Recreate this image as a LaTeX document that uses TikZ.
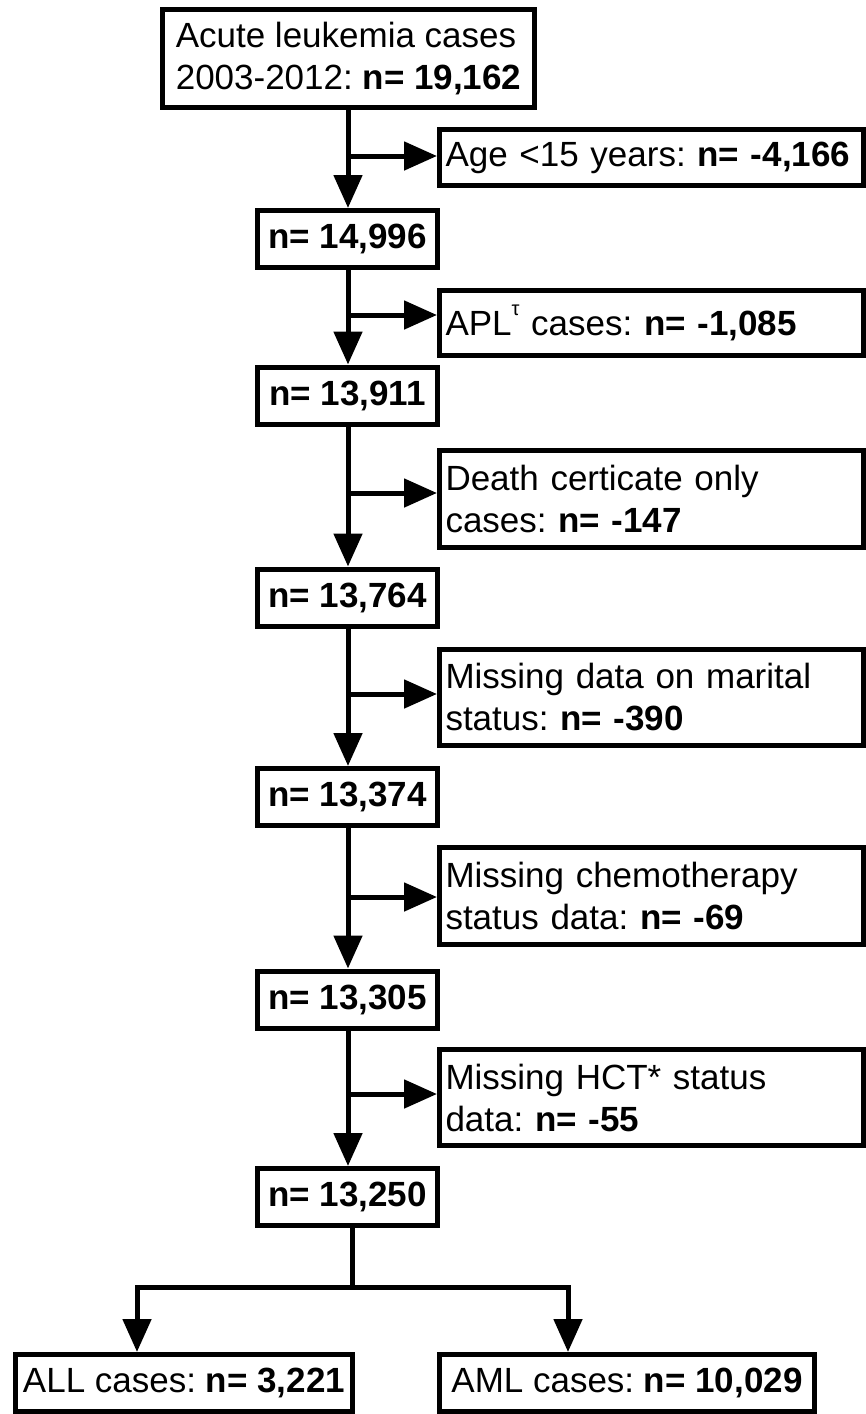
\documentclass[tikz,border=0pt]{standalone}
\usepackage{fontspec}
\setmainfont{Liberation Sans}
\usetikzlibrary{arrows.meta}
\frenchspacing
\begin{document}
\begin{tikzpicture}[x=1pt,y=-1pt,
  box/.style={draw, line width=5pt, inner sep=0pt, font=\fontsize{35}{42}\selectfont\frenchspacing},
  mainbox/.style={box, minimum width=180pt, minimum height=57pt, align=center},
  sidebox/.style={box, minimum width=424pt, text width=412pt, align=left},
  arr/.style={line width=5pt, -{Triangle[length=33pt,width=28pt]}},
  ln/.style={line width=5pt}]
\useasboundingbox (0,0) rectangle (866,1414);
% top box
\node[box, minimum width=372pt, minimum height=98pt, align=left] (top) at (348.5,58.5)
  {Acute leukemia cases\\2003-2012: \textbf{n= 19,162}};
% main column
\node[mainbox] (b1) at (347.5,239) {\textbf{n= 14,996}};
\node[mainbox] (b2) at (347.5,395.5) {\textbf{n= 13,911}};
\node[mainbox] (b3) at (347.5,597.5) {\textbf{n= 13,764}};
\node[mainbox] (b4) at (347.5,797) {\textbf{n= 13,374}};
\node[mainbox] (b5) at (347.5,999.5) {\textbf{n= 13,305}};
\node[mainbox] (b6) at (347.5,1197) {\textbf{n= 13,250}};
% side boxes
\node[sidebox, minimum height=56pt] (s1) at (651.5,157.5) {Age <15 years: \textbf{n= -4,166}};
\node[sidebox, minimum height=65pt] (s2) at (651.5,323) {APL\raisebox{0.55em}{\fontsize{20}{20}\selectfont τ} cases: \textbf{n= -1,085}};
\node[sidebox, minimum height=97pt] (s3) at (651.5,499) {Death certicate only\\cases: \textbf{n= -147}};
\node[sidebox, minimum height=96pt] (s4) at (651.5,697.5) {Missing data on marital\\status: \textbf{n= -390}};
\node[sidebox, minimum height=97pt] (s5) at (651.5,896) {Missing chemotherapy\\status data: \textbf{n= -69}};
\node[sidebox, minimum height=96pt] (s6) at (651.5,1097.5) {Missing HCT* status\\data: \textbf{n= -55}};
% bottom boxes
\node[box, minimum width=337pt, minimum height=57pt] (all) at (184,1383) {ALL cases: \textbf{n= 3,221}};
\node[box, minimum width=375pt, minimum height=57pt] (aml) at (627,1383) {AML cases: \textbf{n= 10,029}};
% junctions
\coordinate (j1) at (348,156);
\coordinate (j2) at (348,315);
\coordinate (j3) at (348,493);
\coordinate (j4) at (348,694);
\coordinate (j5) at (348,897);
\coordinate (j6) at (348,1094);
\coordinate (jb) at (352,1287);
\coordinate (jl) at (137,1287);
\coordinate (jr) at (568,1287);
% connectors
\draw[arr] (top.south -| j1) -- (b1.north -| j1);
\draw[arr] (b1.south -| j1) -- (b2.north -| j1);
\draw[arr] (b2.south -| j1) -- (b3.north -| j1);
\draw[arr] (b3.south -| j1) -- (b4.north -| j1);
\draw[arr] (b4.south -| j1) -- (b5.north -| j1);
\draw[arr] (b5.south -| j1) -- (b6.north -| j1);
\draw[arr] (j1) -- (j1 -| s1.west);
\draw[arr] (j2) -- (j2 -| s2.west);
\draw[arr] (j3) -- (j3 -| s3.west);
\draw[arr] (j4) -- (j4 -| s4.west);
\draw[arr] (j5) -- (j5 -| s5.west);
\draw[arr] (j6) -- (j6 -| s6.west);
\draw[ln] (b6.south -| jb) -- (jb);
\draw[ln, line cap=rect] (jl) -- (jr);
\draw[arr] (jl) -- (jl |- all.north);
\draw[arr] (jr) -- (jr |- aml.north);
\end{tikzpicture}
\end{document}
